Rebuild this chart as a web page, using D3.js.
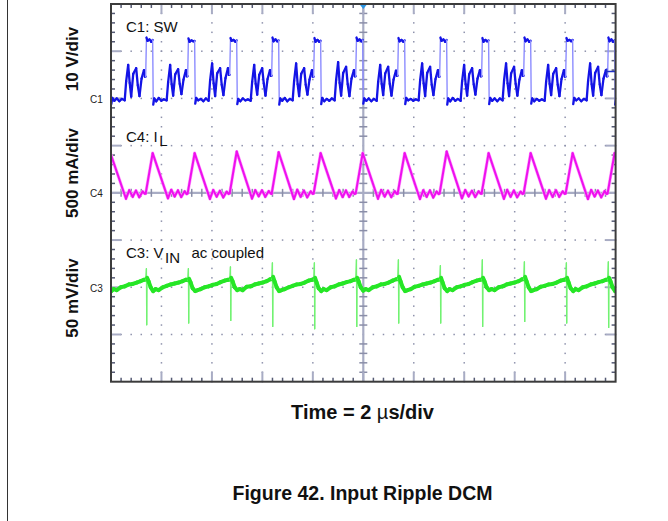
<!DOCTYPE html>
<html><head><meta charset="utf-8">
<script src="https://cdn.jsdelivr.net/npm/d3@7"></script>
<style>html,body{margin:0;padding:0;background:#fff;}svg{display:block;font-family:"Liberation Sans",Arial,sans-serif;}</style>
</head><body><svg id="c" width="668" height="521"></svg>
<script>
// ---------------- DATA ----------------
const timeDomain = [0, 20];            // µs (2 µs/div × 10 div)
const divDomain = [-4, 4];             // vertical divisions
const channelNames = ["C1", "C4", "C3"];
const channelPerDiv = [10, 500, 50];   // V/div, mA/div, mV/div
const channelOffsetDiv = [2, 0, -2];   // ground marker position (div)
const axisLabels = ["10 V/div", "500 mA/div", "50 mV/div"];
const axisLabelCenters = [59, 173, 298];
const timeLabel = ["Time = 2 ", "µ", "s/div"];
const caption = "Figure 42. Input Ripple DCM";
const triggerLevelV = 5.7;

// switching cycle start times (SW rising edges), µs
const cycleStart = [-0.289, 1.374, 3.038, 4.705, 6.368, 8.032, 9.699, 11.362, 13.026, 14.689, 16.356, 18.020, 19.683];

// C1: SW node (V), sample times within each cycle (µs)
const swOffset = [0, 0.032, 0.075, 0.15, 0.22, 0.277, 0.301, 0.34, 0.42, 0.52, 0.62, 0.72, 0.832, 0.89, 0.97, 1.03, 1.089, 1.17, 1.287, 1.35, 1.418, 1.5, 1.596, 1.632];
const swVolts = [
  [5.0, 12.8, 12.1, 12.4, 12.0, 12.3, -1.2, 0.1, -0.5, 0.0, -0.6, -0.1, -0.4, 3.6, 7.1, 3.3, 0.4, 5.2, 6.4, 2.8, 0.5, 4.2, 6.0, 4.6],
  [4.6, 12.9, 12.2, 12.5, 12.0, 12.4, -1.3, 0.0, -0.6, 0.1, -0.5, -0.2, -0.4, 3.4, 7.1, 3.0, 0.6, 5.1, 6.2, 3.1, 0.9, 4.0, 6.0, 4.7],
  [4.7, 12.7, 12.0, 12.3, 12.1, 12.2, -1.1, 0.1, -0.4, -0.1, -0.6, 0.0, -0.5, 3.8, 7.4, 3.2, 0.5, 5.3, 6.4, 2.9, 0.7, 4.3, 6.4, 5.0],
  [5.0, 12.8, 12.2, 12.4, 12.0, 12.3, -1.2, -0.1, -0.6, 0.0, -0.4, -0.2, -0.5, 3.5, 7.1, 3.1, 0.8, 5.0, 6.4, 3.2, 0.6, 4.1, 6.0, 4.8],
  [4.8, 12.9, 12.1, 12.5, 12.1, 12.3, -1.3, 0.0, -0.5, 0.1, -0.6, -0.1, -0.4, 3.7, 7.4, 3.0, 0.5, 5.2, 6.4, 2.9, 0.8, 4.0, 6.0, 4.6],
  [4.6, 12.8, 12.0, 12.4, 12.0, 12.2, -1.2, 0.1, -0.6, -0.1, -0.5, 0.0, -0.4, 3.9, 7.7, 3.3, 0.6, 5.4, 6.7, 3.0, 0.5, 4.2, 6.0, 4.7],
  [4.7, 12.9, 12.2, 12.5, 12.1, 12.4, -1.1, 0.0, -0.5, 0.0, -0.6, -0.1, -0.5, 3.5, 7.1, 3.1, 0.7, 5.3, 6.7, 3.1, 0.6, 4.0, 5.9, 4.8],
  [4.8, 12.8, 12.1, 12.4, 12.0, 12.3, -1.2, 0.1, -0.4, -0.1, -0.5, -0.2, -0.4, 3.8, 7.4, 3.2, 0.5, 5.4, 6.7, 2.9, 0.7, 4.1, 6.0, 4.6],
  [4.6, 12.9, 12.2, 12.5, 12.0, 12.4, -1.3, 0.0, -0.6, 0.1, -0.5, -0.1, -0.5, 3.6, 7.1, 3.0, 0.6, 5.1, 6.4, 3.0, 0.8, 4.2, 6.0, 4.7],
  [4.7, 12.8, 12.0, 12.4, 12.1, 12.3, -1.2, 0.1, -0.5, 0.0, -0.6, 0.0, -0.4, 3.8, 7.4, 3.2, 0.5, 5.3, 6.7, 3.1, 0.6, 4.0, 6.0, 4.8],
  [4.8, 12.9, 12.1, 12.5, 12.0, 12.2, -1.1, 0.0, -0.6, -0.1, -0.5, -0.2, -0.5, 3.5, 7.1, 3.1, 0.7, 5.2, 6.4, 2.9, 0.5, 4.1, 6.0, 4.6],
  [4.6, 12.8, 12.2, 12.4, 12.1, 12.4, -1.2, 0.1, -0.4, 0.0, -0.6, -0.1, -0.4, 3.7, 7.4, 3.0, 0.6, 5.4, 6.7, 3.0, 0.7, 4.2, 6.0, 4.7],
  [4.7, 12.9, 12.1, 12.5, 12.0, 12.3, -1.3, 0.0, -0.5, 0.1, -0.5, -0.2, -0.5, 3.6, 7.1, 3.2, 0.6, 5.1, 6.4, 3.1, 0.6, 4.0, 5.9, 4.8]
];

// C4: inductor current (mA)
const ilOffset = [0, 0.277, 0.883, 1.014, 1.149, 1.279, 1.410, 1.545, 1.624];
const ilMilliamps = [
  [-5, 410, -62, 28, -42, 24, -46, 14, -8],
  [-8, 420, -58, 32, -38, 26, -44, 16, -12],
  [-6, 420, -64, 30, -40, 22, -48, 12, -10],
  [-4, 437, -60, 28, -36, 27, -42, 18, -6],
  [-10, 430, -66, 33, -41, 24, -47, 15, -9],
  [-7, 420, -59, 29, -44, 25, -43, 13, -11],
  [-5, 420, -62, 31, -39, 23, -45, 17, -8],
  [-9, 420, -65, 27, -42, 26, -49, 14, -12],
  [-6, 437, -58, 30, -37, 22, -44, 16, -7],
  [-8, 420, -63, 32, -41, 25, -46, 12, -10],
  [-5, 420, -61, 28, -43, 27, -42, 15, -9],
  [-7, 420, -66, 31, -38, 24, -47, 18, -11],
  [-6, 420, -60, 29, -40, 23, -45, 14, -8]
];

// C3: input voltage ripple, ac coupled (mV)
const vinOffset = [0, 0.03, 0.042, 0.056, 0.119, 0.198, 0.297, 0.396, 0.515, 0.673, 0.832, 0.990, 1.149, 1.307, 1.465, 1.604];
const vinMillivolts = [
  [8, 20, -40, 10, 6, 0, -4, -2, -3, 0, 1, 3, 3.5, 5, 6.5, 8],
  [8, 19.6, -39.7, 10, 6, 0, -4, -2, -3, 0, 1.5, 3, 4, 5, 6.5, 8],
  [7.5, 19.6, -37.9, 9, 5, -1, -4, -3, -2, 0, 1, 2.5, 3.5, 5.5, 7, 8],
  [8, 21.7, -35.1, 10, 6, 0, -3, -2, -3, 0.5, 1, 3, 4, 5, 6.5, 8.5],
  [8.5, 25.9, -41.5, 11, 6, 0, -4, -3, -2, 0, 1.5, 3, 3.5, 5, 7, 8],
  [8, 25.9, -43.9, 10, 5, -1, -4, -2, -3, 0, 1, 3, 4, 5.5, 6.5, 8],
  [8, 29.1, -41.5, 10, 6, 0, -3.5, -2, -3, 0, 1, 3, 3.5, 5, 7, 8.5],
  [8.5, 29.1, -37.9, 11, 6, 0, -4, -3, -2, 0.5, 1.5, 3, 4, 5, 6.5, 8],
  [8, 22.8, -37.9, 10, 5, -1, -4, -2, -3, 0, 1, 2.5, 3.5, 5.5, 7, 8],
  [8, 29.1, -41.5, 10, 6, 0, -3, -2, -3, 0, 1, 3, 4, 5, 6.5, 8.5],
  [8.5, 27.0, -36.2, 11, 6, 0, -4, -3, -2, 0.5, 1.5, 3, 3.5, 5, 7, 8],
  [8, 25.9, -37.9, 10, 5, -1, -4, -2, -3, 0, 1, 3, 4, 5.5, 6.5, 8],
  [8, 27.0, -42.5, 10, 6, 0, -4, -2, -3, 0, 1, 3, 3.5, 5, 6.5, 8]
];

// ---------------- DRAW ----------------
const svg = d3.select("#c");
const frame = {left: 111, right: 615.6, top: 4, bottom: 381.7};
const x = d3.scaleLinear().domain(timeDomain).range([frame.left, frame.right]);
const yDiv = d3.scaleLinear().domain(divDomain).range([frame.bottom, frame.top]);
const yCh = ch => v => yDiv(channelOffsetDiv[ch] + v / channelPerDiv[ch]);

// page border on the left
svg.append("line").attr("x1", 7.5).attr("x2", 7.5).attr("y1", 0).attr("y2", 521)
  .attr("stroke", "#333").attr("stroke-width", 1);

const grid = svg.append("g");
const majorX = d3.range(timeDomain[0], timeDomain[1] + 0.001, 2);
const minorX = d3.range(0, 51).map(i => timeDomain[0] + i * 0.4);
const majorY = d3.range(divDomain[0], divDomain[1] + 0.001, 1);
const minorY = d3.range(0, 41).map(i => divDomain[0] + i * 0.2);
const dotC = "#8e92ac";

// dotted graticule
majorX.filter(t => t > 0 && t < 20 && t !== 10).forEach(t => {
  minorY.forEach(d => grid.append("rect").attr("x", x(t) - 0.75).attr("y", yDiv(d) - 0.75)
    .attr("width", 1.5).attr("height", 1.5).attr("fill", dotC));
});
majorY.filter(d => d > -4 && d < 4 && d !== 0).forEach(d => {
  minorX.forEach(t => grid.append("rect").attr("x", x(t) - 0.75).attr("y", yDiv(d) - 0.75)
    .attr("width", 1.5).attr("height", 1.5).attr("fill", dotC));
});

// center cross lines with ticks
const lineC = "#a8acc4", tickC = "#8a8ea8", minC = "#555a74";
grid.append("line").attr("x1", x(10)).attr("x2", x(10)).attr("y1", frame.top).attr("y2", frame.bottom)
  .attr("stroke", lineC).attr("stroke-width", 2.2);
grid.append("line").attr("x1", frame.left).attr("x2", frame.right).attr("y1", yDiv(0)).attr("y2", yDiv(0))
  .attr("stroke", lineC).attr("stroke-width", 2.2);
minorY.forEach((d, i) => {
  if (i % 5 === 0) return;
  grid.append("line").attr("x1", x(10) - 4).attr("x2", x(10) + 4).attr("y1", yDiv(d)).attr("y2", yDiv(d))
    .attr("stroke", tickC).attr("stroke-width", 1.5);
});
minorX.forEach((t, i) => {
  if (i % 5 === 0) return;
  grid.append("line").attr("x1", x(t)).attr("x2", x(t)).attr("y1", yDiv(0) - 4).attr("y2", yDiv(0) + 4)
    .attr("stroke", tickC).attr("stroke-width", 1.5);
});

// border ticks
minorY.forEach((d, i) => {
  if (i === 0 || i === 40) return;
  const major = i % 5 === 0, len = major ? 10 : 4;
  const col = major ? lineC : minC, w = major ? 2 : 1.5;
  grid.append("line").attr("x1", frame.left).attr("x2", frame.left + len).attr("y1", yDiv(d)).attr("y2", yDiv(d)).attr("stroke", col).attr("stroke-width", w);
  grid.append("line").attr("x1", frame.right - len).attr("x2", frame.right).attr("y1", yDiv(d)).attr("y2", yDiv(d)).attr("stroke", col).attr("stroke-width", w);
});
minorX.forEach((t, i) => {
  if (i === 0 || i === 50) return;
  const major = i % 5 === 0, len = major ? 10 : 4;
  const col = major ? lineC : minC, w = major ? 2 : 1.5;
  grid.append("line").attr("x1", x(t)).attr("x2", x(t)).attr("y1", frame.top).attr("y2", frame.top + len).attr("stroke", col).attr("stroke-width", w);
  grid.append("line").attr("x1", x(t)).attr("x2", x(t)).attr("y1", frame.bottom - len).attr("y2", frame.bottom).attr("stroke", col).attr("stroke-width", w);
});

// traces
svg.append("clipPath").attr("id", "clip").append("rect")
  .attr("x", frame.left).attr("y", frame.top).attr("width", frame.right - frame.left).attr("height", frame.bottom - frame.top);
const traces = svg.append("g").attr("clip-path", "url(#clip)");

function buildPoints(offsets, rows) {
  const pts = [];
  rows.forEach((row, k) => row.forEach((v, j) => pts.push({t: cycleStart[k] + offsets[j], v})));
  return pts;
}
function drawTrace(pts, ch, style) {
  const yc = yCh(ch);
  const xy = pts.map(p => [x(p.t), yc(p.v)]);
  if (style.halo) {
    traces.append("path").attr("d", d3.line()(xy)).attr("fill", "none")
      .attr("stroke", style.halo).attr("stroke-width", style.haloW).attr("stroke-linejoin", "round");
  }
  for (let i = 1; i < xy.length; i++) {
    const [x0, y0] = xy[i - 1], [x1, y1] = xy[i];
    const steep = Math.abs(y1 - y0) > style.steep * Math.max(Math.abs(x1 - x0), 0.01);
    traces.append("line").attr("x1", x0).attr("y1", y0).attr("x2", x1).attr("y2", y1)
      .attr("stroke", steep ? style.edge : style.core)
      .attr("stroke-width", steep ? style.edgeW : style.coreW)
      .attr("stroke-linecap", "round");
  }
}
drawTrace(buildPoints(swOffset, swVolts), 0,
  {core: "#1414e6", coreW: 2.3, edge: "#8c8cff", edgeW: 1.4, steep: 25, halo: null});
drawTrace(buildPoints(ilOffset, ilMilliamps), 1,
  {core: "#ee10ee", coreW: 2.0, edge: "#ee10ee", edgeW: 2.0, steep: 100, halo: "#ff9cff", haloW: 3.2});
drawTrace(buildPoints(vinOffset, vinMillivolts), 2,
  {core: "#26e626", coreW: 4.0, edge: "#72f272", edgeW: 1.3, steep: 6, halo: null});

// trigger level marker (right) and trigger position marker (top)
const ty = yCh(0)(triggerLevelV);
svg.append("path").attr("d", `M${frame.right},${ty}H${frame.right - 9}M${frame.right - 9},${ty - 3}V${ty + 3}`)
  .attr("stroke", "#2030c8").attr("stroke-width", 1.5).attr("fill", "none");
svg.append("path").attr("d", `M${x(10) - 4},${frame.top}L${x(10) + 4},${frame.top}L${x(10)},${frame.top + 5}Z`)
  .attr("fill", "#2a96e6");

// frame
svg.append("rect").attr("x", frame.left).attr("y", frame.top)
  .attr("width", frame.right - frame.left).attr("height", frame.bottom - frame.top)
  .attr("fill", "none").attr("stroke", "#3c3c3c").attr("stroke-width", 2);

// channel ground labels
channelNames.forEach((n, i) => {
  svg.append("text").attr("x", 90).attr("y", yDiv(channelOffsetDiv[i]) + 4.5)
    .attr("font-size", 10).attr("fill", "#222").text(n);
});

// vertical scale labels
axisLabels.forEach((s, i) => {
  svg.append("text").attr("transform", `translate(78,${axisLabelCenters[i]}) rotate(-90)`)
    .attr("text-anchor", "middle").attr("font-size", 17).attr("font-weight", "bold")
    .attr("fill", "#111").text(s);
});

// in-plot channel titles
const t1 = svg.append("text").attr("x", 126).attr("y", 31.5).attr("font-size", 15).attr("fill", "#111");
t1.text("C1: SW");
const t4 = svg.append("text").attr("x", 126).attr("y", 141.5).attr("font-size", 15).attr("fill", "#111");
t4.append("tspan").text("C4: I");
t4.append("tspan").attr("dx", 1.5).attr("dy", 4.5).text("L");
const t3 = svg.append("text").attr("x", 126).attr("y", 258.3).attr("font-size", 15).attr("fill", "#111");
t3.append("tspan").text("C3: V");
t3.append("tspan").attr("dx", 1.5).attr("dy", 5).text("IN");
t3.append("tspan").attr("x", 191.5).attr("y", 258.3).text("ac coupled");

// time label and caption
const tl = svg.append("text").attr("x", 362.5).attr("y", 419).attr("text-anchor", "middle")
  .attr("font-size", 20).attr("font-weight", "bold").attr("fill", "#111");
tl.append("tspan").text(timeLabel[0]);
tl.append("tspan").attr("font-weight", "normal").text(timeLabel[1]);
tl.append("tspan").text(timeLabel[2]);
svg.append("text").attr("x", 362.5).attr("y", 500).attr("text-anchor", "middle")
  .attr("font-size", 19.5).attr("font-weight", "bold").attr("fill", "#111").text(caption);
</script></body></html>
